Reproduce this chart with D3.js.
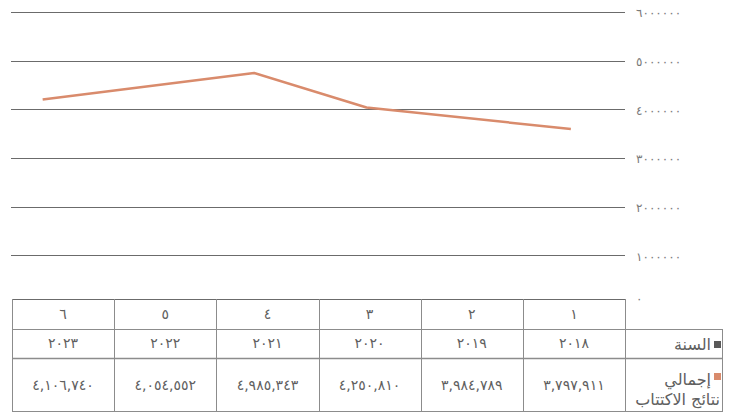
<!DOCTYPE html>
<html lang="ar">
<head>
<meta charset="utf-8">
<script src="https://cdn.jsdelivr.net/npm/d3@7"></script>
<style>
  html, body { margin: 0; padding: 0; background: #fff; }
  svg { display: block; font-family: "DejaVu Sans", "Noto Sans", sans-serif; }
</style>
</head>
<body>
<svg id="chart" width="734" height="412"></svg>
<script>
// ---- data ----
const categories = ["١", "٢", "٣", "٤", "٥", "٦"];
const years = ["٢٠١٨", "٢٠١٩", "٢٠٢٠", "٢٠٢١", "٢٠٢٢", "٢٠٢٣"];
const tableValues = ["٣,٧٩٧,٩١١", "٣,٩٨٤,٧٨٩", "٤,٢٥٠,٨١٠", "٤,٩٨٥,٣٤٣", "٤,٠٥٤,٥٥٢", "٤,١٠٦,٧٤٠"];
// line as drawn in the picture: position along the category axis (1..6) and value
const linePositions = [1.03, 3.03, 4.13, 6.20];
const lineValues = [3596000, 4037000, 4746000, 4202000];
const yTicks = [0, 1000000, 2000000, 3000000, 4000000, 5000000, 6000000];
const yTickLabels = ["٠", "١٠٠٠٠٠٠", "٢٠٠٠٠٠٠", "٣٠٠٠٠٠٠", "٤٠٠٠٠٠٠", "٥٠٠٠٠٠٠", "٦٠٠٠٠٠٠"];
const seriesNames = ["السنة", ["إجمالي", "نتائج الاكتتاب"]];
const seriesColors = ["#595959", "#D98B6C"];

// ---- layout ----
const svg = d3.select("#chart");
const plotLeft = 12, plotRight = 625;
const tableTop = 299, rowBottoms = [329, 358, 411];
const legendRight = 722;
const textColor = "#606060";
const gridColor = "#6b6b6b";
const borderColor = "#8c8c8c";

const x = d3.scaleBand().domain(categories).range([plotRight, plotLeft]);
const bw = x.bandwidth();
const xLin = d3.scaleLinear().domain([1, 6])
  .range([x(categories[0]) + bw / 2, x(categories[5]) + bw / 2]);
const y = d3.scaleLinear().domain([0, 6000000]).range([304, 12]);

// gridlines
svg.append("g").selectAll("line")
  .data(yTicks.filter(d => d > 0))
  .join("line")
  .attr("x1", plotLeft - 1).attr("x2", plotRight)
  .attr("y1", d => Math.round(y(d)) + 0.5).attr("y2", d => Math.round(y(d)) + 0.5)
  .attr("stroke", gridColor).attr("stroke-width", 1);

// y tick labels (right side)
svg.append("g").selectAll("text")
  .data(yTicks)
  .join("text")
  .attr("x", 636)
  .attr("y", (d, i) => i === 0 ? 299 : y(d) + 1)
  .attr("dy", "0.35em")
  .attr("text-anchor", "start")
  .attr("font-size", 12)
  .attr("letter-spacing", -2)
  .attr("fill", "#7a7a7a")
  .text((d, i) => yTickLabels[i]);

// line
const lineData = linePositions.map((p, i) => ({ p, v: lineValues[i] }));
svg.append("path")
  .datum(lineData)
  .attr("fill", "none")
  .attr("stroke", seriesColors[1])
  .attr("stroke-width", 2.5)
  .attr("stroke-linejoin", "round")
  .attr("d", d3.line().x(d => xLin(d.p)).y(d => y(d.v)));

// ---- data table ----
const t = svg.append("g");
const rowTops = [tableTop, rowBottoms[0], rowBottoms[1]];
// horizontal borders
t.append("line").attr("x1", plotLeft).attr("x2", plotRight)
  .attr("y1", tableTop + 0.5).attr("y2", tableTop + 0.5)
  .attr("stroke", gridColor);
rowBottoms.forEach((yy, i) => {
  t.append("line").attr("x1", plotLeft).attr("x2", legendRight)
    .attr("y1", yy + 0.5).attr("y2", yy + 0.5)
    .attr("stroke", borderColor).attr("stroke-width", i === 1 ? 1.5 : 1);
});
// vertical borders
const vxs = categories.map(c => x(c) + bw).concat([plotLeft]);
vxs.forEach(vx => {
  t.append("line").attr("x1", Math.round(vx) + 0.5).attr("x2", Math.round(vx) + 0.5)
    .attr("y1", tableTop).attr("y2", rowBottoms[2] + 1)
    .attr("stroke", borderColor);
});
t.append("line").attr("x1", legendRight + 0.5).attr("x2", legendRight + 0.5)
  .attr("y1", rowBottoms[0]).attr("y2", rowBottoms[2] + 1)
  .attr("stroke", borderColor);

const rowsText = [categories, years, tableValues];
rowsText.forEach((row, r) => {
  t.append("g").selectAll("text")
    .data(categories)
    .join("text")
    .attr("x", d => x(d) + bw / 2)
    .attr("y", (rowTops[r] + rowBottoms[r]) / 2 + (r === 2 ? 1 : 0))
    .attr("dy", "0.35em")
    .attr("text-anchor", "middle")
    .attr("font-size", 14)
    .attr("fill", textColor)
    .text((d, i) => row[i]);
});

// legend cells
t.append("rect").attr("x", 714).attr("y", 341).attr("width", 7).attr("height", 7)
  .attr("fill", seriesColors[0]);
t.append("text").attr("x", 711).attr("y", 344).attr("dy", "0.35em")
  .attr("text-anchor", "end")
  .attr("font-size", 16).attr("fill", textColor).text(seriesNames[0]);
t.append("rect").attr("x", 714).attr("y", 373).attr("width", 7).attr("height", 7)
  .attr("fill", seriesColors[1]);
t.append("text").attr("x", 711).attr("y", 379).attr("dy", "0.35em")
  .attr("text-anchor", "end")
  .attr("font-size", 16).attr("fill", textColor).text(seriesNames[1][0]);
t.append("text").attr("x", 720).attr("y", 399).attr("dy", "0.35em")
  .attr("text-anchor", "end")
  .attr("font-size", 16).attr("fill", textColor).text(seriesNames[1][1]);
</script>
</body>
</html>
